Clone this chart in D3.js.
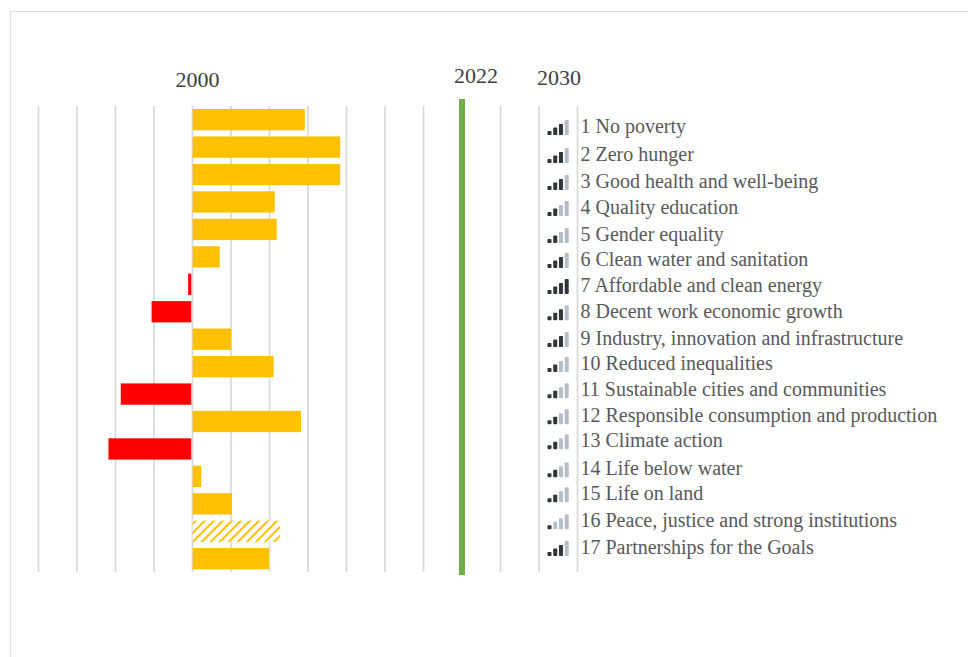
<!DOCTYPE html>
<html><head><meta charset="utf-8">
<script src="https://cdn.jsdelivr.net/npm/d3@7"></script>
<style>html,body{margin:0;padding:0;background:#fff}svg{display:block}text{font-family:"Liberation Serif",serif}</style>
</head><body><svg id="c" width="968" height="657"></svg>
<script>
const goals = ["1 No poverty","2 Zero hunger","3 Good health and well-being","4 Quality education","5 Gender equality","6 Clean water and sanitation","7 Affordable and clean energy","8 Decent work economic growth","9 Industry, innovation and infrastructure","10 Reduced inequalities","11 Sustainable cities and communities","12 Responsible consumption and production","13 Climate action","14 Life below water","15 Life on land","16 Peace, justice and strong institutions","17 Partnerships for the Goals"];
const progress = [2.93,3.85,3.85,2.15,2.2,0.72,-0.1,-1.05,1.02,2.12,-1.85,2.83,-2.17,0.24,1.04,2.29,2.0];
const hatched = [false,false,false,false,false,false,false,false,false,false,false,false,false,false,false,true,false];
const signal = [3,3,3,2,2,3,4,3,3,2,2,2,2,2,2,1,3];
const gridTicks = [-4,-3,-2,-1,0,1,2,3,4,5,6,7,8,9,10];
const yearLabels = ["2000","2022","2030"];
const markerValue = 7;

const svg = d3.select("#c");
const x = d3.scaleLinear().domain([-4,10]).range([38,577]);
const y = d3.scaleBand().domain(goals).range([106.26,572.1]).paddingInner(0.224).paddingOuter(0.1);
const row = d3.scalePoint().domain(goals).range([127,548]);
const rowNudge = [0,1.7,2.4,2,2.8,1.5,1.2,1,1.6,0.3,0,-0.3,-1.6,0.1,-1.2,-0.5,0];
const rowY = (d,i) => row(d) + rowNudge[i];

const defs = svg.append("defs");
const pat = defs.append("pattern").attr("id","hatch").attr("width",6.4).attr("height",6.4)
  .attr("patternUnits","userSpaceOnUse").attr("patternTransform","rotate(45)");
pat.append("rect").attr("width",6.4).attr("height",6.4).attr("fill","#fff");
pat.append("rect").attr("width",2).attr("height",6.4).attr("fill","#FFC000");

// outer frame
svg.append("path").attr("d","M10.5,657V11.5H968").attr("fill","none").attr("stroke","#DEDEDE").attr("stroke-width",1.2);

// gridlines via axis
const gridAxis = d3.axisBottom(x).tickValues(gridTicks).tickSize(466).tickFormat("");
const gg = svg.append("g").attr("transform","translate(0,106)").call(gridAxis);
gg.select(".domain").remove();
gg.selectAll("line").attr("stroke","#D9D9D9").attr("stroke-width",1.7);

// bars
svg.append("g").selectAll("rect").data(goals).join("rect")
  .attr("x",(d,i)=>progress[i]>=0? x(0)+0.7 : x(progress[i]))
  .attr("width",(d,i)=>Math.abs(x(progress[i])-x(0))-0.7)
  .attr("y",d=>y(d)).attr("height",y.bandwidth())
  .attr("fill",(d,i)=>hatched[i]?"url(#hatch)":(progress[i]<0?"#FF0000":"#FFC000"));

// 2022 marker
svg.append("line").attr("x1",x(markerValue)+0.5).attr("x2",x(markerValue)+0.5).attr("y1",99).attr("y2",575)
  .attr("stroke","#70AD47").attr("stroke-width",6);

// year labels
const yearPos = [[197.5,87],[476,83],[559,85]];
svg.append("g").selectAll("text").data(yearLabels).join("text")
  .attr("x",(d,i)=>yearPos[i][0]).attr("y",(d,i)=>yearPos[i][1])
  .attr("text-anchor","middle").attr("font-size",22).attr("fill","#404040").text(d=>d);

// row labels
svg.append("g").selectAll("text").data(goals).join("text")
  .attr("x",580.5).attr("y",(d,i)=>rowY(d,i)+6.3)
  .attr("font-size",20).attr("fill","#595959").text(d=>d);

// signal icons
const iconX = d3.scaleBand().domain([0,1,2,3]).range([547.5,568.7]).paddingInner(0.3);
const iconH = [4,7.5,11,15];
const icons = svg.append("g").selectAll("g").data(goals).join("g");
icons.each(function(d,i){
  d3.select(this).selectAll("rect").data([0,1,2,3]).join("rect")
    .attr("x",k=>iconX(k)).attr("width",iconX.bandwidth())
    .attr("y",k=>rowY(d,i)+8-iconH[k]).attr("height",k=>iconH[k])
    .attr("rx",0.8)
    .attr("fill",k=>k<signal[i]?"#30353C":"#B4BEC9");
});
</script></body></html>
